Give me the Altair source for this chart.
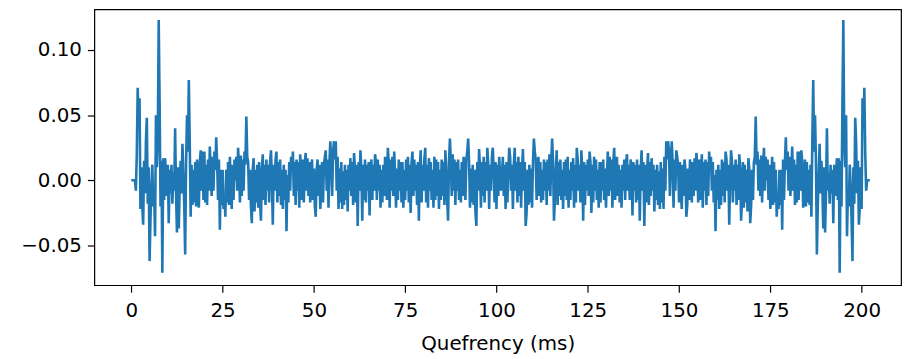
import altair as alt
import pandas as pd

step_ms = 0.25
period_ms = 202.5
half_values = [
    # 0.00 - 4.75 ms
    0.000, 0.000, 0.000, 0.000, 0.000, -0.008, 0.020, 0.071, 0.040, 0.063,
    -0.022, 0.010, -0.020, -0.034, 0.015, -0.010, 0.030, 0.048, -0.018, 0.010,
    # 5.00 - 9.75
    -0.062, -0.030, -0.004, 0.012, -0.020, -0.010, -0.043, 0.050, 0.010, 0.030,
    0.123, 0.060, -0.020, 0.015, -0.071, 0.017, -0.015, 0.017, 0.005, -0.012,
    # 10.00 - 14.75
    0.012, -0.033, 0.008, -0.010, 0.012, -0.018, 0.006, -0.008, 0.040, -0.010,
    -0.040, 0.010, -0.037, -0.005, 0.015, -0.010, 0.028, 0.005, -0.020, -0.057,
    # 15.00 - 19.75
    0.014, 0.050, 0.022, 0.077, 0.030, -0.028, 0.012, -0.019, 0.008, -0.017,
    0.014, -0.020, 0.016, -0.012, -0.021, 0.014, 0.023, -0.008, 0.022, -0.015,
    # 20.00 - 24.75
    0.022, -0.017, 0.012, -0.019, 0.016, -0.008, 0.026, 0.008, -0.012, 0.018,
    -0.008, 0.022, 0.008, 0.033, 0.014, -0.015, 0.016, -0.038, 0.008, -0.019,
    # 25.00 - 29.75
    0.008, -0.022, -0.012, -0.028, 0.008, -0.017, 0.014, -0.019, 0.018, -0.008,
    -0.022, 0.012, -0.015, 0.016, 0.000, 0.018, -0.008, 0.025, 0.008, -0.017,
    # 30.00 - 34.75
    0.019, -0.012, 0.016, -0.008, 0.022, 0.012, 0.049, 0.018, 0.014, -0.015,
    0.008, -0.019, -0.033, 0.008, 0.017, -0.024, 0.008, -0.017, 0.012, -0.021,
    # 35.00 - 39.75
    0.014, -0.015, -0.031, 0.008, 0.020, -0.015, 0.012, -0.019, 0.016, -0.008,
    0.012, -0.017, 0.014, 0.023, 0.000, -0.034, 0.012, -0.008, 0.016, 0.022,
    # 40.00 - 44.75
    -0.017, 0.014, -0.012, 0.016, -0.019, 0.008, -0.022, 0.012, -0.015, 0.008,
    -0.039, 0.004, -0.017, 0.014, -0.008, 0.018, 0.008, 0.022, -0.012, 0.014,
    # 45.00 - 49.75
    -0.019, 0.016, -0.008, 0.014, -0.021, 0.020, 0.004, -0.015, 0.016, -0.017,
    0.012, 0.021, -0.008, 0.017, -0.012, 0.014, -0.017, 0.009, 0.016, -0.015,
    # 50.00 - 54.75
    0.009, -0.019, -0.028, 0.008, 0.016, -0.012, 0.012, -0.022, -0.008, 0.014,
    -0.017, 0.012, 0.018, 0.023, -0.008, 0.016, -0.021, 0.014, 0.030, 0.012,
    # 55.00 - 59.75
    -0.012, 0.022, 0.030, 0.016, 0.030, -0.008, 0.018, -0.022, 0.009, -0.017,
    0.014, -0.022, 0.007, -0.019, 0.012, -0.015, 0.008, -0.024, 0.012, -0.008,
    # 60.00 - 64.75
    0.017, -0.012, 0.014, -0.019, 0.021, 0.008, -0.017, 0.012, -0.035, 0.014,
    -0.008, 0.023, 0.008, -0.031, 0.012, -0.015, 0.016, -0.017, 0.012, -0.008,
    # 65.00 - 69.75
    0.014, -0.027, 0.008, 0.016, -0.015, 0.012, -0.008, 0.020, 0.014, -0.015,
    0.016, -0.008, 0.012, -0.021, 0.008, -0.017, 0.012, -0.012, 0.018, 0.008,
    # 70.00 - 74.75
    -0.015, 0.025, 0.014, -0.021, 0.016, -0.008, 0.018, -0.012, 0.022, 0.004,
    -0.021, 0.009, -0.015, 0.016, -0.008, 0.014, -0.017, 0.014, -0.021, 0.008,
    # 75.00 - 79.75
    -0.015, 0.016, -0.008, 0.018, -0.017, 0.012, -0.025, 0.014, 0.022, -0.012,
    0.016, -0.008, 0.012, -0.019, 0.014, -0.031, 0.008, 0.023, -0.017, 0.012,
    # 80.00 - 84.75
    -0.008, 0.016, 0.025, -0.017, 0.012, -0.021, 0.017, -0.008, 0.014, -0.015,
    0.008, -0.021, 0.018, -0.015, 0.016, -0.012, 0.014, -0.022, 0.008, -0.015,
    # 85.00 - 89.75
    0.016, -0.012, 0.014, -0.019, 0.023, 0.008, -0.015, -0.031, 0.014, 0.032,
    0.014, -0.012, 0.020, -0.008, 0.016, -0.019, 0.014, -0.008, 0.016, -0.015,
    # 90.00 - 94.75
    0.008, -0.017, 0.014, -0.012, 0.018, 0.008, -0.015, 0.016, 0.022, 0.032,
    0.014, -0.021, 0.009, -0.017, 0.012, -0.019, 0.008, -0.025, -0.035, 0.014,
    # 95.00 - 99.75
    -0.008, 0.024, 0.008, -0.021, 0.014, -0.012, 0.018, -0.017, 0.014, -0.008,
    0.025, 0.012, -0.022, 0.012, -0.008, 0.018, 0.025, 0.008, -0.017, 0.014,
    # 100.00 - 101.25 (centre of symmetry)
    -0.022, 0.012, -0.012, 0.018, 0.004, -0.008,
]

x_ticks = [0, 25, 50, 75, 100, 125, 150, 175, 200]
y_ticks = [-0.05, 0.00, 0.05, 0.10]

# real cepstrum is symmetric: c[n] = c[N - n]
half_t = [i * step_ms for i in range(len(half_values))]
t = half_t + [period_ms - v for v in reversed(half_t[1:-1])]
c = half_values + list(reversed(half_values[1:-1]))
df = pd.DataFrame({"t": t, "c": c})

FONT = "DejaVu Sans"
FS = 20

chart = (
    alt.Chart(df)
    .mark_line(color="#1f77b4", strokeWidth=2.6, clip=True)
    .encode(
        x=alt.X(
            "t:Q",
            scale=alt.Scale(domain=[-10.13, 210.8], nice=False, zero=False),
            axis=alt.Axis(
                values=x_ticks,
                title="Quefrency (ms)",
                grid=False,
                domain=False,
                tickSize=7,
                tickWidth=1.2,
                tickColor="black",
                labelColor="black",
                labelFont=FONT,
                labelFontSize=FS,
                labelPadding=9,
                titleFont=FONT,
                titleFontSize=FS,
                titleFontWeight="normal",
                titleColor="black",
                titlePadding=13,
            ),
        ),
        y=alt.Y(
            "c:Q",
            scale=alt.Scale(domain=[-0.0805, 0.1312], nice=False, zero=False),
            axis=alt.Axis(
                values=y_ticks,
                format=".2f",
                title=None,
                grid=False,
                domain=False,
                tickSize=7,
                tickWidth=1.2,
                tickColor="black",
                labelColor="black",
                labelFont=FONT,
                labelFontSize=FS,
                labelPadding=6,
            ),
        ),
    )
    .properties(
        width=813,
        height=278,
        autosize=alt.AutoSizeParams(type="none"),
        padding={"left": 87, "top": 0, "right": 5, "bottom": 72},
        background="white",
    )
    .configure_view(stroke="black", strokeWidth=1.2)
)

chart.save("out.html", embed_options={"renderer": "svg", "actions": False})
